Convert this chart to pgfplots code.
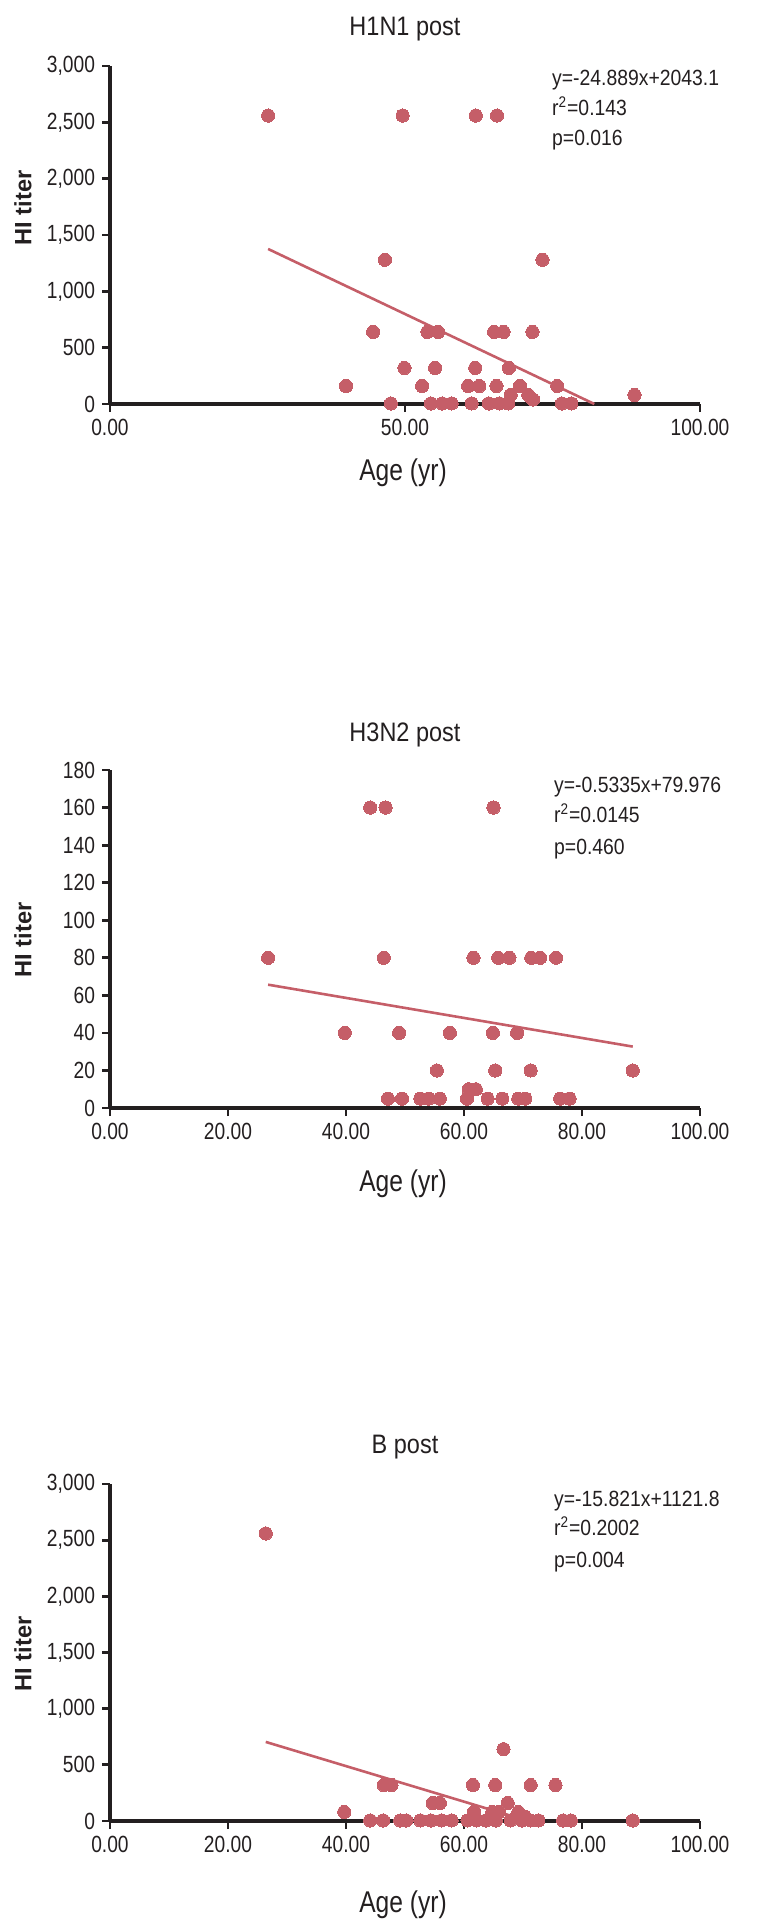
\documentclass[border=0pt]{standalone}
\usepackage{fontspec}
\setmainfont{Liberation Sans}[FakeStretch=0.88]
\newfontfamily\labfont{Liberation Sans}
\newfontfamily\condfont{Liberation Sans}[FakeStretch=0.82]
\usepackage{pgfplots}
\pgfplotsset{compat=1.18}
\definecolor{dot}{RGB}{197,94,104}
\definecolor{ink}{RGB}{35,31,32}
\pgfplotsset{
  panel/.style={
    scale only axis, width=295pt,
    xmin=0, xmax=100, ymin=0,
    enlargelimits=false,
    axis x line*=bottom, axis y line*=left,
    axis line style={ink, line width=1.55pt, -},
    tick align=outside,
    major tick length=4pt,
    tick style={ink, line width=1.4pt},
    tick label style={font=\condfont\fontsize{11.7}{13}\selectfont, text=ink},
    clip=false,
  },
  pts/.style={only marks, mark=*, mark size=3.3pt, mark options={fill=dot, draw=dot, line width=0pt}},
  fit/.style={no marks, dot, line width=1.3pt},
}
\begin{document}
\begin{tikzpicture}
\path[use as bounding box] (0,0) rectangle (380.5pt,-964pt);

% ---------------- Panel 1: H1N1 ----------------
\begin{axis}[panel, at={(55pt,-202pt)}, anchor=south west, height=169pt,
  ymax=3000,
  xtick={0,50,100}, xticklabels={0.00,50.00,100.00},
  ytick={0,500,1000,1500,2000,2500,3000},
  yticklabels={0,500,{1,000},{1,500},{2,000},{2,500},{3,000}}]
\addplot[pts] coordinates {
 (26.8,2560) (49.6,2560) (62.0,2560) (65.6,2560)
 (46.6,1280) (73.3,1280)
 (44.6,640) (53.8,640) (55.6,640) (65.1,640) (66.7,640) (71.6,640)
 (49.9,320) (55.1,320) (61.9,320) (67.6,320)
 (40.0,160) (52.9,160) (60.7,160) (62.6,160) (65.5,160) (69.5,160) (75.8,160)
 (67.9,80) (70.9,80) (88.9,80)
 (71.7,40)
 (47.6,5) (54.4,5) (56.3,5) (57.9,5) (61.3,5) (64.2,5) (66.0,5) (67.5,5) (76.6,5) (78.2,5)
};
\addplot[fit] coordinates {(26.8,1376.1) (82.09,0)};
\end{axis}
\node[font=\fontsize{13.35}{15}\selectfont, text=ink] at (202.5pt,-14.5pt) {H1N1 post};
\node[anchor=base west, inner sep=0pt, font=\fontsize{11}{13}\selectfont, text=ink] at (275.9pt,-42.5pt) {y=-24.889x+2043.1};
\node[anchor=base west, inner sep=0pt, font=\fontsize{11}{13}\selectfont, text=ink] at (275.9pt,-57.8pt) {r\textsuperscript{2}=0.143};
\node[anchor=base west, inner sep=0pt, font=\fontsize{11}{13}\selectfont, text=ink] at (275.9pt,-72.8pt) {p=0.016};
\node[font=\condfont\fontsize{15}{17}\selectfont, text=ink] at (201.5pt,-236.5pt) {Age (yr)};
\node[rotate=90, font=\labfont\bfseries\fontsize{11.8}{14}\selectfont, text=ink] at (11.5pt,-104pt) {HI titer};

% ---------------- Panel 2: H3N2 ----------------
\begin{axis}[panel, at={(55pt,-554pt)}, anchor=south west, height=169pt,
  ymax=180,
  xtick={0,20,40,60,80,100}, xticklabels={0.00,20.00,40.00,60.00,80.00,100.00},
  ytick={0,20,40,60,80,100,120,140,160,180},
  yticklabels={0,20,40,60,80,100,120,140,160,180}]
\addplot[pts] coordinates {
 (44.1,160) (46.7,160) (65.0,160)
 (26.8,80) (46.4,80) (61.6,80) (65.8,80) (67.7,80) (71.4,80) (72.9,80) (75.6,80)
 (39.8,40) (49.0,40) (57.6,40) (64.9,40) (69.0,40)
 (55.4,20) (65.3,20) (71.3,20) (88.6,20)
 (60.8,10) (62.0,10)
 (47.1,5) (49.5,5) (52.6,5) (54.0,5) (55.9,5) (60.5,5) (64.0,5) (66.5,5) (69.2,5) (70.4,5) (76.3,5) (77.9,5)
};
\addplot[fit] coordinates {(26.8,65.68) (88.6,32.71)};
\end{axis}
\node[font=\fontsize{13.35}{15}\selectfont, text=ink] at (202.5pt,-367.5pt) {H3N2 post};
\node[anchor=base west, inner sep=0pt, font=\fontsize{11}{13}\selectfont, text=ink] at (276.9pt,-396.3pt) {y=-0.5335x+79.976};
\node[anchor=base west, inner sep=0pt, font=\fontsize{11}{13}\selectfont, text=ink] at (276.9pt,-411.3pt) {r\textsuperscript{2}=0.0145};
\node[anchor=base west, inner sep=0pt, font=\fontsize{11}{13}\selectfont, text=ink] at (276.9pt,-427pt) {p=0.460};
\node[font=\condfont\fontsize{15}{17}\selectfont, text=ink] at (201.5pt,-592pt) {Age (yr)};
\node[rotate=90, font=\labfont\bfseries\fontsize{11.8}{14}\selectfont, text=ink] at (11.5pt,-470pt) {HI titer};

% ---------------- Panel 3: B ----------------
\begin{axis}[panel, at={(55pt,-910.5pt)}, anchor=south west, height=168.5pt,
  ymax=3000,
  xtick={0,20,40,60,80,100}, xticklabels={0.00,20.00,40.00,60.00,80.00,100.00},
  ytick={0,500,1000,1500,2000,2500,3000},
  yticklabels={0,500,{1,000},{1,500},{2,000},{2,500},{3,000}}]
\addplot[pts] coordinates {
 (26.4,2560)
 (66.7,640)
 (46.4,320) (47.7,320) (61.5,320) (65.3,320) (71.3,320) (75.5,320)
 (54.7,160) (55.9,160) (67.4,160)
 (39.7,80) (61.7,80) (64.8,80) (65.9,80) (69.2,80)
 (70.3,40)
 (44.1,5) (46.3,5) (49.2,5) (50.2,5) (52.6,5) (54.4,5) (56.2,5) (57.9,5) (60.6,5) (62.1,5)
 (63.7,5) (65.4,5) (67.9,5) (69.8,5) (71.3,5) (72.6,5) (76.8,5) (78.1,5) (88.6,5)
};
\addplot[fit] coordinates {(26.4,704.1) (70.9,0)};
\end{axis}
\node[font=\fontsize{13.35}{15}\selectfont, text=ink] at (202.5pt,-723.5pt) {B post};
\node[anchor=base west, inner sep=0pt, font=\fontsize{11}{13}\selectfont, text=ink] at (276.9pt,-753.3pt) {y=-15.821x+1121.8};
\node[anchor=base west, inner sep=0pt, font=\fontsize{11}{13}\selectfont, text=ink] at (276.9pt,-767.8pt) {r\textsuperscript{2}=0.2002};
\node[anchor=base west, inner sep=0pt, font=\fontsize{11}{13}\selectfont, text=ink] at (276.9pt,-783.8pt) {p=0.004};
\node[font=\condfont\fontsize{15}{17}\selectfont, text=ink] at (201.5pt,-952.5pt) {Age (yr)};
\node[rotate=90, font=\labfont\bfseries\fontsize{11.8}{14}\selectfont, text=ink] at (11.5pt,-827pt) {HI titer};
\end{tikzpicture}
\end{document}
